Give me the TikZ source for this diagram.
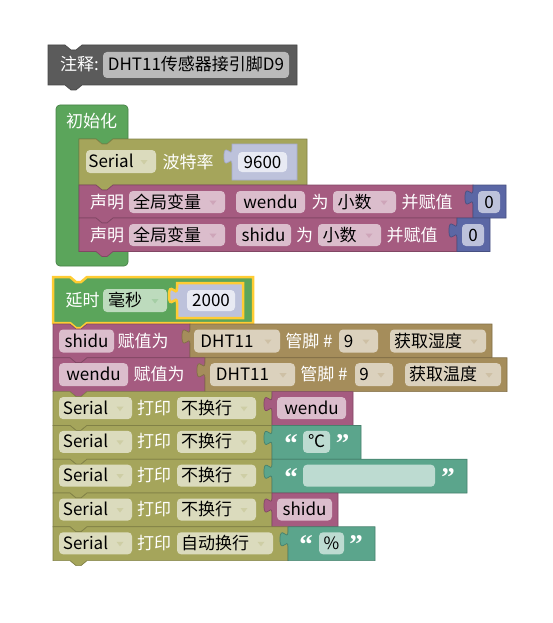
\documentclass[tikz,border=0pt]{standalone}
\usepackage{fontspec}
\setmainfont{Noto Sans CJK SC}
\newfontfamily\qfont{Liberation Serif}
\definecolor{cmt}{HTML}{5B5B5B}
\definecolor{grn}{HTML}{5BA55B}
\definecolor{olv}{HTML}{A5A55B}
\definecolor{pur}{HTML}{A55B80}
\definecolor{brn}{HTML}{A58D5B}
\definecolor{tea}{HTML}{5BA58C}
\definecolor{blu}{HTML}{5B67A5}
\definecolor{sel}{HTML}{FFCC33}
\newcounter{nn}
\tikzset{
  txt/.style={inner sep=0pt, anchor=base, font=\fontsize{17pt}{20pt}\selectfont},
  qmark/.style={inner sep=0pt, anchor=north, text=white, font=\qfont\bfseries\fontsize{27pt}{30pt}\selectfont},
  blk/.style={fill=#1, draw=#1!78!black, line width=0.7pt},
  shblk/.style={fill=blu!40!white, draw=blu!55!white, line width=0.7pt},
  selline/.style={draw=sel, line width=2.5pt}
}
\newcommand{\tx}[4][black]{\stepcounter{nn}\node[txt,text=#1] (t\thenn) at ({#2},{#3}) {#4};}
\newcommand{\qm}[3]{\stepcounter{nn}\node[qmark] (q\thenn) at ({#1},{#2}) {#3};}
\newcommand{\fld}[6]{\fill[#5,rounded corners=4pt] (#1,#2) rectangle (#3,#4);\tx{(#1+#3)/2}{(#2+#4)/2+6}{#6}}
\newcommand{\dfld}[6]{\fill[#5!40!white,rounded corners=4pt] (#1,#2) rectangle (#3,#4);\tx{(#1+#3-20)/2}{(#2+#4)/2+6}{#6}\fill[#5!55!white] ({#3-15.5},{(#2+#4)/2-1.5}) -- ++(7,0) -- ++(-3.5,4.5) -- cycle;}
\newcommand{\stmtshape}[5]{\path[#5] (#1,#2) -- ({#1+17},#2) -- ++(6,5) -- ++(5,0) -- ++(6,-5) -- (#3,#2) -- (#3,#4) -- ({#1+34},#4) -- ++(-6,5) -- ++(-5,0) -- ++(-6,-5) -- (#1,#4) -- cycle;}
\newcommand{\valshape}[5]{\path[#5] (#1,#2) -- (#1,{#2+5}) .. controls (#1,{#2+15}) and ({#1-8},{#2-3}) .. ({#1-8},{#2+12.5}) .. controls ({#1-8},{#2+28}) and (#1,{#2+10}) .. (#1,{#2+20}) -- (#1,#4) -- (#3,#4) -- (#3,#2) -- cycle;}
\begin{document}
\begin{tikzpicture}[x=1pt,y=-1pt]
\useasboundingbox[fill=white] (0,0) rectangle (552,623);
% ---------- comment ----------
\stmtshape{48}{45}{297}{85}{blk=cmt}
\tx[white]{79.5}{71}{注释:}
\fld{103}{52}{289}{78}{cmt!42!white}{DHT11传感器接引脚D9}
% ---------- setup C block ----------
\path[blk=grn] [rounded corners=4pt] (56,139) -- (56,105) -- (128,105) [sharp corners] -- (128,139) -- (113,139) -- ++(-6,5) -- ++(-5,0) -- ++(-6,-5) -- (79,139) -- (79,251.5) -- (128,251.5) [rounded corners=4pt] -- (128,266) -- (56,266) [sharp corners] -- cycle;
\tx[white]{91.5}{128}{初始化}
% Serial baud
\stmtshape{79}{139}{307}{185}{blk=olv}
\dfld{86}{150}{156}{173}{olv}{Serial}
\tx[white]{188}{168}{波特率}
\valshape{232}{144}{297}{180}{shblk}
\fld{238}{152}{287}{172}{blu!14!white}{9600}
% declare wendu
\stmtshape{79}{185}{473}{218}{blk=pur}
\tx[white]{107}{208}{声明}
\dfld{129}{191}{225}{213}{pur}{全局变量}
\fld{236}{191}{305}{213}{pur!40!white}{wendu}
\tx[white]{320}{208}{为}
\dfld{333}{191}{396}{213}{pur}{小数}
\tx[white]{427}{208}{并赋值}
\valshape{473}{185}{506}{218}{blk=blu}
\fld{478}{191}{500}{213}{blu!40!white}{0}
% declare shidu
\stmtshape{79}{218}{457}{251.5}{blk=pur}
\tx[white]{107}{241}{声明}
\dfld{129}{224}{225}{246}{pur}{全局变量}
\fld{236}{224}{291}{246}{pur!40!white}{shidu}
\tx[white]{304.5}{241}{为}
\dfld{318}{224}{381}{246}{pur}{小数}
\tx[white]{412}{241}{并赋值}
\valshape{457}{218}{490}{251.5}{blk=blu}
\fld{462}{224}{484}{246}{blu!40!white}{0}
% ---------- loop stack ----------
% delay (selected)
\stmtshape{53}{277}{253}{323}{blk=grn}
\tx[white]{82.5}{306.5}{延时}
\dfld{103}{289}{167}{312}{grn}{毫秒}
\valshape{177}{283}{243}{318}{shblk}
\fld{187}{290}{235}{311}{blu!14!white}{2000}
\stmtshape{53}{277}{253}{323}{selline}
\valshape{177}{283}{243}{318}{selline}
% shidu = DHT11
\stmtshape{53}{324}{190}{357.8}{blk=pur}
\fld{59}{329.5}{114}{352.5}{pur!40!white}{shidu}
\tx[white]{143}{347}{赋值为}
\valshape{190}{324}{492}{357.8}{blk=brn}
\dfld{194}{329.5}{280}{352.5}{brn}{DHT11}
\tx[white]{309}{347}{管脚 \#}
\dfld{339}{329.5}{378}{352.5}{brn}{9}
\dfld{390}{329.5}{486}{352.5}{brn}{获取湿度}
% wendu = DHT11
\stmtshape{53}{357.8}{205}{391.6}{blk=pur}
\fld{59}{363.2}{128}{386.2}{pur!40!white}{wendu}
\tx[white]{159}{380.7}{赋值为}
\valshape{205}{357.8}{507}{391.6}{blk=brn}
\dfld{210}{363.2}{295}{386.2}{brn}{DHT11}
\tx[white]{324}{380.7}{管脚 \#}
\dfld{355}{363.2}{393}{386.2}{brn}{9}
\dfld{405}{363.2}{501}{386.2}{brn}{获取温度}
% Serial print 1
\stmtshape{53}{391.6}{272}{425.4}{blk=olv}
\dfld{59}{397.1}{132}{419.1}{olv}{Serial}
\tx[white]{154}{414.1}{打印}
\dfld{177}{397.1}{256}{419.1}{olv}{不换行}
\valshape{272}{391.6}{353}{425.4}{blk=pur}
\fld{277}{397.1}{346}{419.1}{pur!40!white}{wendu}
% Serial print 2
\stmtshape{53}{425.4}{272}{459.2}{blk=olv}
\dfld{59}{430.9}{132}{452.9}{olv}{Serial}
\tx[white]{154}{447.9}{打印}
\dfld{177}{430.9}{256}{452.9}{olv}{不换行}
\valshape{272}{425.4}{361}{459.2}{blk=tea}
\qm{291}{434.4}{“}
\fld{303}{430.9}{330}{452.9}{tea!40!white}{℃}
\qm{342.5}{434.4}{”}
% Serial print 3
\stmtshape{53}{459.2}{272}{493}{blk=olv}
\dfld{59}{464.7}{132}{486.7}{olv}{Serial}
\tx[white]{154}{481.7}{打印}
\dfld{177}{464.7}{256}{486.7}{olv}{不换行}
\valshape{272}{459.2}{467}{493}{blk=tea}
\qm{291}{468.2}{“}
\fld{303}{464.7}{435}{486.7}{tea!40!white}{}
\qm{448}{468.2}{”}
% Serial print 4
\stmtshape{53}{493}{272}{526.8}{blk=olv}
\dfld{59}{498.5}{132}{520.5}{olv}{Serial}
\tx[white]{154}{515.5}{打印}
\dfld{177}{498.5}{256}{520.5}{olv}{不换行}
\valshape{272}{493}{338}{526.8}{blk=pur}
\fld{277}{498.5}{332}{520.5}{pur!40!white}{shidu}
% Serial print 5
\stmtshape{53}{526.8}{288}{560.6}{blk=olv}
\dfld{59}{532.3}{132}{554.3}{olv}{Serial}
\tx[white]{154}{549.3}{打印}
\dfld{177}{532.3}{273}{554.3}{olv}{自动换行}
\valshape{288}{526.8}{375}{560.6}{blk=tea}
\qm{306}{535.8}{“}
\fld{319}{532.3}{344}{554.3}{tea!40!white}{\%}
\qm{356}{535.8}{”}
\end{tikzpicture}
\end{document}
